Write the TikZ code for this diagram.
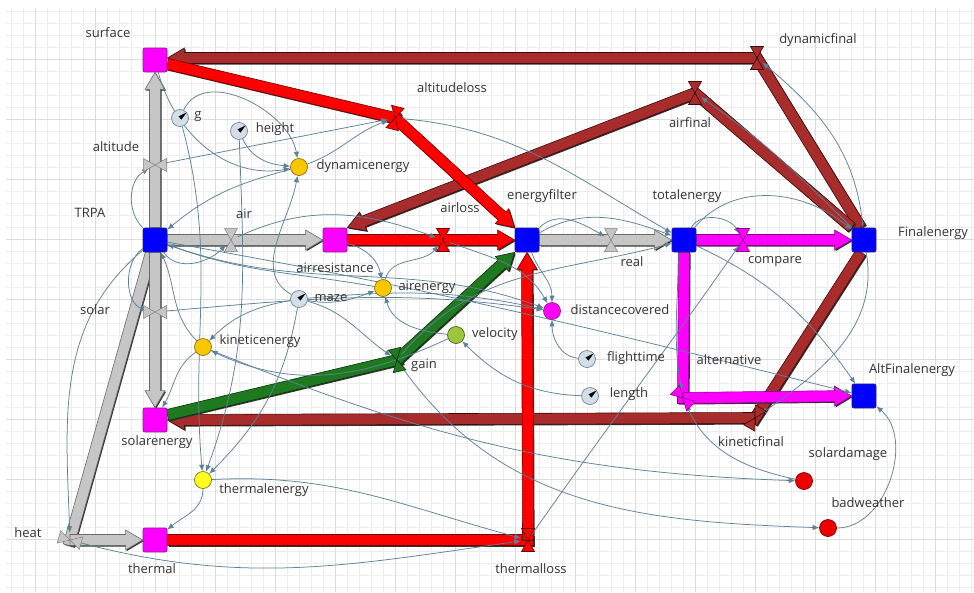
\documentclass[tikz,border=0pt]{standalone}
\usepackage{fontspec}
\setmainfont{Open Sans}
\usetikzlibrary{calc,arrows.meta}

\definecolor{txt}{HTML}{333333}
\definecolor{gridminor}{HTML}{EDEDED}
\definecolor{gridmajor}{HTML}{DCDCDC}
\definecolor{linkc}{HTML}{5D8298}
\definecolor{stockblue}{HTML}{0000FF}
\definecolor{stockblueline}{HTML}{20207A}
\definecolor{stockmag}{HTML}{FF00FF}
\definecolor{stockmagline}{HTML}{8E1A8E}
\definecolor{gold}{HTML}{F7C800}
\definecolor{goldline}{HTML}{8A6E10}
\definecolor{lemon}{HTML}{FFFF22}
\definecolor{lime}{HTML}{9CC63C}
\definecolor{dotred}{HTML}{EE0000}
\definecolor{paramfill}{HTML}{D3DEE8}
\definecolor{paramline}{HTML}{6F8596}
\definecolor{pgray}{HTML}{C6C6C6}
\definecolor{pgrayline}{HTML}{6A6A6A}
\definecolor{pred}{HTML}{FF0000}
\definecolor{predline}{HTML}{700000}
\definecolor{pbrown}{HTML}{A82C2C}
\definecolor{pbrownline}{HTML}{3A0A0A}
\definecolor{pgreen}{HTML}{1F7A1F}
\definecolor{pgreenline}{HTML}{0A300A}
\definecolor{pmag}{HTML}{FF00FF}
\definecolor{pmagline}{HTML}{8A008A}

\pgfdeclarelayer{gridlayer}
\pgfdeclarelayer{flowlayer}
\pgfdeclarelayer{linklayer}
\pgfsetlayers{gridlayer,flowlayer,linklayer,main}

% pipe half width, arrow head half width, arrow head length
\newcommand{\flowhw}{5.5pt}
\newcommand{\flowhW}{10pt}
\newcommand{\flowhl}{17pt}

% straight pipe piece without head (#1 style, #2 from, #3 to)
\newcommand{\flowseg}[3]{%
  \coordinate (segend) at ($(#3)!-\flowhw!(#2)$);
  \begin{scope}[transform canvas={shift={(1.1pt,-1.1pt)}}]
    \fill[flowshadow] ($(#2)!\flowhw!90:(segend)$) -- ($(segend)!\flowhw!-90:(#2)$) -- ($(segend)!\flowhw!90:(#2)$) -- ($(#2)!\flowhw!-90:(segend)$) -- cycle;
  \end{scope}
  \filldraw[#1] ($(#2)!\flowhw!90:(segend)$) -- ($(segend)!\flowhw!-90:(#2)$) -- ($(segend)!\flowhw!90:(#2)$) -- ($(#2)!\flowhw!-90:(segend)$) -- cycle;
}
% pipe piece ending in an arrow head (#1 style, #2 from, #3 tip)
\newcommand{\flowarrow}[3]{%
  \coordinate (flowbase) at ($(#3)!\flowhl!(#2)$);
  \begin{scope}[transform canvas={shift={(1.1pt,-1.1pt)}}]
    \fill[flowshadow] ($(#2)!\flowhw!90:(#3)$) -- ($(flowbase)!\flowhw!90:(#3)$) -- ($(flowbase)!\flowhW!90:(#3)$) -- (#3) -- ($(flowbase)!\flowhW!-90:(#3)$) -- ($(flowbase)!\flowhw!-90:(#3)$) -- ($(#2)!\flowhw!-90:(#3)$) -- cycle;
  \end{scope}
  \filldraw[#1] ($(#2)!\flowhw!90:(#3)$) -- ($(flowbase)!\flowhw!90:(#3)$) -- ($(flowbase)!\flowhW!90:(#3)$) -- (#3) -- ($(flowbase)!\flowhW!-90:(#3)$) -- ($(flowbase)!\flowhw!-90:(#3)$) -- ($(#2)!\flowhw!-90:(#3)$) -- cycle;
}
% black needle of a parameter dial
\newcommand{\dialhand}[1]{%
  \fill[black] ($(#1)+(40:8.6)$) -- ($(#1)+(130:2.2)$) -- ($(#1)+(-50:2.2)$) -- cycle;
}

\tikzset{
  pics/valve/.style={code={%
    \filldraw[#1] (-6.5,11.5) -- (6.5,11.5) -- (0,0) -- cycle;
    \filldraw[#1] (-6.5,-11.5) -- (6.5,-11.5) -- (0,0) -- cycle;
  }},
}

\begin{document}
\begin{tikzpicture}[x=1pt,y=1pt,
  every node/.style={font=\fontsize{13}{15}\selectfont, text=txt},
  stockbox/.style={draw=#1line, fill=#1, rounded corners=2pt, minimum size=24pt, inner sep=0pt, line width=0.8pt},
  auxdot/.style={circle, fill=#1, minimum size=17pt, inner sep=0pt, line width=0.7pt},
  paramdot/.style={circle, draw=paramline, fill=paramfill, minimum size=17pt, inner sep=0pt, line width=0.7pt},
  valvept/.style={circle, minimum size=14pt, inner sep=0pt},
  lbl/.style={inner sep=1pt},
  link/.style={draw=linkc, line width=0.75pt, -{Latex[length=6.5pt,width=5.5pt]}},
  flowshadow/.style={fill=black!80},
  grayflow/.style={fill=pgray, draw=pgrayline, line width=0.6pt},
  redflow/.style={fill=pred, draw=predline, line width=0.6pt},
  brownflow/.style={fill=pbrown, draw=pbrownline, line width=0.6pt},
  greenflow/.style={fill=pgreen, draw=pgreenline, line width=0.6pt},
  magflow/.style={fill=pmag, draw=pmagline, line width=0.6pt},
  grayvalve/.style={fill=pgray, draw=gray, line width=0.5pt},
]
\useasboundingbox (0,0) rectangle (974,-592);

% ---------- background grid ----------
\begin{pgfonlayer}{gridlayer}
  \fill[white] (0,0) rectangle (974,-592);
  \foreach \gx in {11,23,...,971} \draw[gridminor, line width=0.6pt] (\gx,-8) -- (\gx,-592);
  \foreach \gy in {11,23,...,587} \draw[gridminor, line width=0.6pt] (6,-\gy) -- (974,-\gy);
  \foreach \gx in {35,95,...,935} \draw[gridmajor, line width=0.6pt] (\gx,-8) -- (\gx,-592);
  \foreach \gy in {59,119,...,539} \draw[gridmajor, line width=0.6pt] (6,-\gy) -- (974,-\gy);
\end{pgfonlayer}

% ---------- stocks ----------
\node[stockbox=stockmag]  (surface)        at (155,-60)  {};
\node[stockbox=stockblue] (TRPA)           at (155,-240) {};
\node[stockbox=stockmag]  (airresistance)  at (335,-240) {};
\node[stockbox=stockblue] (energyfilter)   at (527,-240) {};
\node[stockbox=stockblue] (totalenergy)    at (684,-240) {};
\node[stockbox=stockblue] (Finalenergy)    at (864,-240) {};
\node[stockbox=stockblue] (AltFinalenergy) at (864,-396) {};
\node[stockbox=stockmag]  (solarenergy)    at (155,-420) {};
\node[stockbox=stockmag]  (thermal)        at (155,-540) {};

% ---------- valves ----------
\node[valvept] (altitude)     at (155,-165) {};
\node[valvept] (air)          at (231,-240) {};
\node[valvept] (solar)        at (155,-312) {};
\node[valvept] (heat)         at (70,-540)  {};
\node[valvept] (airloss)      at (443,-240) {};
\node[valvept] (real)         at (611,-240) {};
\node[valvept] (compare)      at (743,-240) {};
\node[valvept] (alternative)  at (683,-398) {};
\node[valvept] (altitudeloss) at (395,-118) {};
\node[valvept] (gain)         at (397,-360) {};
\node[valvept] (thermalloss)  at (528,-540) {};
\node[valvept] (dynamicfinal) at (757,-58)  {};
\node[valvept] (airfinal)     at (695,-93)  {};
\node[valvept] (kineticfinal) at (755,-418) {};

% ---------- auxiliaries ----------
\node[auxdot=gold, draw=goldline]        (dynamicenergy)   at (299,-167) {};
\node[auxdot=gold, draw=goldline]        (airenergy)       at (383,-288) {};
\node[auxdot=gold, draw=goldline]        (kineticenergy)   at (203,-347) {};
\node[auxdot=lemon, draw=goldline]       (thermalenergy)   at (203,-480) {};
\node[auxdot=lime, draw=lime!50!black]   (velocity)        at (456,-335) {};
\node[auxdot=stockmag, draw=stockmagline](distancecovered) at (552,-311) {};
\node[auxdot=dotred, draw=dotred!50!black] (solardamage)   at (804,-481) {};
\node[auxdot=dotred, draw=dotred!50!black] (badweather)    at (828,-528) {};

% ---------- parameters ----------
\node[paramdot] (g)          at (180,-118) {};
\node[paramdot] (height)     at (239,-131) {};
\node[paramdot] (maze)       at (299,-299) {};
\node[paramdot] (flighttime) at (587,-359) {};
\node[paramdot] (length)     at (590,-396) {};
\dialhand{g}
\dialhand{height}
\dialhand{maze}
\dialhand{flighttime}
\dialhand{length}

% ---------- valve symbols ----------
\pic[rotate=90]  at (altitude)     {valve=grayvalve};
\pic             at (air)          {valve=grayvalve};
\pic[rotate=90]  at (solar)        {valve=grayvalve};
\pic[rotate=-106] at (heat)        {valve=grayvalve};
\pic             at (real)         {valve=grayvalve};
\pic             at (airloss)      {valve=redflow};
\pic[rotate=-14] at (altitudeloss) {valve=redflow};
\pic             at (thermalloss)  {valve=redflow};
\pic[rotate=13]  at (gain)         {valve=greenflow};
\pic             at (compare)      {valve=magflow};
\pic[rotate=45]  at (alternative)  {valve=magflow};
\pic             at (dynamicfinal) {valve=brownflow};
\pic             at (airfinal)     {valve=brownflow};
\pic[rotate=-30] at (kineticfinal) {valve=brownflow};

% ---------- labels ----------
\node[lbl] (lab-surface)        at (108,-33)  {surface};
\node[lbl] (lab-altitude)       at (116,-147) {altitude};
\node[lbl] (lab-g)              at (198,-117) {g};
\node[lbl] (lab-height)         at (275,-129) {height};
\node[lbl] (lab-dynamicenergy)  at (363,-166) {dynamicenergy};
\node[lbl] (lab-altitudeloss)   at (452,-88)  {altitudeloss};
\node[lbl] (lab-dynamicfinal)   at (818,-40)  {dynamicfinal};
\node[lbl] (lab-airfinal)       at (690,-123) {airfinal};
\node[lbl] (lab-totalenergy)    at (687,-196) {totalenergy};
\node[lbl] (lab-energyfilter)   at (542,-196) {energyfilter};
\node[lbl] (lab-TRPA)           at (90,-213)  {TRPA};
\node[lbl] (lab-air)            at (244,-214) {air};
\node[lbl] (lab-airloss)        at (460,-208) {airloss};
\node[lbl] (lab-airresistance)  at (335,-268) {airresistance};
\node[lbl] (lab-real)           at (632,-262) {real};
\node[lbl] (lab-compare)        at (775,-262) {compare};
\node[lbl] (lab-Finalenergy)    at (933,-233) {Finalenergy};
\node[lbl] (lab-solar)          at (95,-310)  {solar};
\node[lbl] (lab-maze)           at (331,-298) {maze};
\node[lbl] (lab-airenergy)      at (427,-287) {airenergy};
\node[lbl] (lab-distancecovered) at (620,-310) {distancecovered};
\node[lbl] (lab-kineticenergy)  at (260,-341) {kineticenergy};
\node[lbl] (lab-velocity)       at (495,-334) {velocity};
\node[lbl] (lab-flighttime)     at (636,-358) {flighttime};
\node[lbl] (lab-gain)           at (424,-365) {gain};
\node[lbl] (lab-length)         at (629,-394) {length};
\node[lbl] (lab-alternative)    at (729,-360) {alternative};
\node[lbl] (lab-AltFinalenergy) at (912,-370) {AltFinalenergy};
\node[lbl] (lab-solarenergy)    at (157,-442) {solarenergy};
\node[lbl] (lab-kineticfinal)   at (751,-442) {kineticfinal};
\node[lbl] (lab-solardamage)    at (848,-454) {solardamage};
\node[lbl] (lab-thermalenergy)  at (264,-490) {thermalenergy};
\node[lbl] (lab-badweather)     at (868,-503) {badweather};
\node[lbl] (lab-heat)           at (28,-533)  {heat};
\node[lbl] (lab-thermal)        at (152,-569) {thermal};
\node[lbl] (lab-thermalloss)    at (531,-569) {thermalloss};

% ---------- flow pipes ----------
\coordinate (heatsrc) at ([xshift=-4pt]TRPA.south);
\coordinate (alsrc)   at ([yshift=-4pt]surface.east);
\coordinate (dfend)   at ([yshift=2pt]surface.east);
\coordinate (gainsrc) at ([yshift=5pt]solarenergy.east);
\coordinate (fe-dyn)  at ([xshift=-3pt]Finalenergy.north);
\coordinate (fe-air)  at (Finalenergy.north west);
\coordinate (fe-kin)  at ([xshift=-3pt]Finalenergy.south);
\begin{pgfonlayer}{flowlayer}
  \flowarrow{grayflow}{TRPA.north}{surface.south}
  \flowarrow{grayflow}{TRPA.east}{airresistance.west}
  \flowseg{grayflow}{heatsrc}{heat}
  \flowarrow{grayflow}{heat}{thermal.west}
  \flowarrow{grayflow}{TRPA.south}{solarenergy.north}
  \flowarrow{grayflow}{energyfilter.east}{totalenergy.west}
  \flowseg{brownflow}{fe-dyn}{dynamicfinal}
  \flowarrow{brownflow}{dynamicfinal}{dfend}
  \flowseg{brownflow}{fe-air}{airfinal}
  \flowarrow{brownflow}{airfinal}{airresistance.north east}
  \flowseg{brownflow}{fe-kin}{kineticfinal}
  \flowarrow{brownflow}{kineticfinal}{solarenergy.east}
  \flowseg{redflow}{alsrc}{altitudeloss}
  \flowarrow{redflow}{altitudeloss}{energyfilter.north west}
  \flowarrow{redflow}{airresistance.east}{energyfilter.west}
  \flowseg{redflow}{thermal.east}{thermalloss}
  \flowarrow{redflow}{thermalloss}{energyfilter.south}
  \flowseg{greenflow}{gainsrc}{gain}
  \flowarrow{greenflow}{gain}{energyfilter.south west}
  \flowarrow{magflow}{totalenergy.east}{Finalenergy.west}
  \flowseg{magflow}{totalenergy.south}{alternative}
  \flowarrow{magflow}{alternative}{AltFinalenergy.west}
\end{pgfonlayer}

% ---------- causal links ----------
\begin{pgfonlayer}{linklayer}
  \draw[link] (g) to[out=65,in=100] (dynamicenergy);
  \draw[link] (surface) to[out=-75,in=190] (dynamicenergy);
  \draw[link] (height) to[out=-65,in=175] (dynamicenergy);
  \draw[link] (maze) to[out=150,in=-100] (dynamicenergy);
  \draw[link] (altitude) -- (altitudeloss);
  \draw[link] (dynamicenergy) to[out=20,in=200] (altitudeloss);
  \draw[link] (altitudeloss) to[out=-5,in=150] (totalenergy);
  \draw[link] (dynamicenergy) to[out=195,in=40] (TRPA);
  \draw[link] (TRPA) to[out=135,in=210] (altitude);
  \draw[link] (g) to[out=-75,in=95] (thermalenergy);
  \draw[link] (height) to[out=-88,in=70] (thermalenergy);
  \draw[link] (maze) to[out=-100,in=45] (thermalenergy);
  \draw[link] (TRPA) to[out=-55,in=-135] (air);
  \draw[link] (TRPA) to[out=215,in=165] (solar);
  \draw[link] (TRPA) to[out=220,in=92] (heat);
  \draw[link] (thermalenergy) to[out=-90,in=40] (thermal);
  \draw[link] (thermalenergy) to[out=3,in=165] (thermalloss);
  \draw[link] (heat) to[out=-15,in=188] (thermalloss);
  \draw[link] (thermalloss) to[out=55,in=235] (compare);
  \draw[link] (totalenergy) to[out=60,in=120] (compare);
  \draw[link] (totalenergy) to[out=50,in=140] (Finalenergy);
  \draw[link] (Finalenergy) to[out=135,in=-35] (airfinal);
  \draw[link] (Finalenergy) to[out=95,in=-40] (dynamicfinal);
  \draw[link] (Finalenergy) to[out=-80,in=35] (kineticfinal);
  \draw[link] (totalenergy) to[out=-25,in=125] (AltFinalenergy);
  \draw[link] (TRPA) to[out=-10,in=166] (AltFinalenergy);
  \draw[link] (badweather) to[out=0,in=-40] (AltFinalenergy);
  \draw[link] (gain) to[out=-55,in=178] (badweather);
  \draw[link] (kineticenergy) to[out=-22,in=178] (solardamage);
  \draw[link] (solardamage) to[out=168,in=-65] (alternative);
  \draw[link] (totalenergy.-115) to[out=-90,in=100] (alternative);
  \draw[link] (flighttime) to[out=175,in=-90] (distancecovered);
  \draw[link] (length) to[out=178,in=-45] (velocity);
  \draw[link] (velocity) to[out=175,in=-75] (airenergy);
  \draw[link] (velocity) to[out=205,in=-25] (kineticenergy);
  \draw[link] (maze) to[out=-15,in=145] (gain);
  \draw[link] (maze) to[out=-10,in=200] (airenergy);
  \draw[link] (solar) to[out=5,in=172] (distancecovered);
  \draw[link] (TRPA) to[out=-20,in=160] (distancecovered);
  \draw[link] (airenergy) to[out=170,in=-20] (TRPA);
  \draw[link] (airenergy) to[out=75,in=-130] (airloss);
  \draw[link] (air) to[out=25,in=160] (airloss);
  \draw[link] (airloss) to[out=-20,in=120] (distancecovered);
  \draw[link] (energyfilter) to[out=-70,in=90] (distancecovered);
  \draw[link] (maze) to[out=5,in=168] (distancecovered);
  \draw[link] (energyfilter) to[out=45,in=150] (real);
  \draw[link] (energyfilter) to[out=30,in=160] (totalenergy);
  \draw[link] (gain) to[out=50,in=195] (totalenergy);
  \draw[link] (kineticenergy) to[out=215,in=60] (solarenergy);
  \draw[link] (kineticenergy) to[out=135,in=-65] (TRPA);
  \draw[link] (maze) to[out=190,in=45] (kineticenergy);
  \draw[link] (airresistance) to[out=-15,in=100] (airenergy);
\end{pgfonlayer}
\end{tikzpicture}
\end{document}
